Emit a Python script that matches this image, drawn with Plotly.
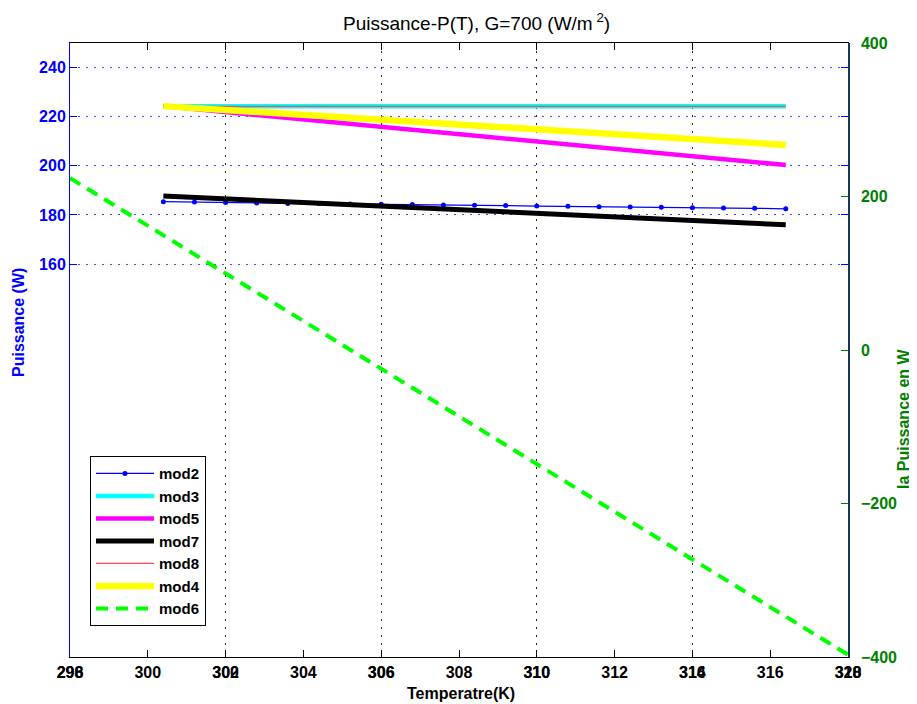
import plotly.graph_objects as go

# ---- data ----
T_mod2 = [300.4, 301.2, 302.0, 302.8, 303.6, 304.4, 305.2, 306.0, 306.8, 307.6, 308.4,
          309.2, 310.0, 310.8, 311.6, 312.4, 313.2, 314.0, 314.8, 315.6, 316.4]
P_mod2 = [185.4, 185.3, 185.1, 184.9, 184.7, 184.6, 184.4, 184.3, 184.2, 184.0, 183.9,
          183.8, 183.6, 183.5, 183.3, 183.2, 183.1, 182.9, 182.8, 182.7, 182.5]
T_thick = [300.4, 304.4, 308.4, 312.4, 316.4]
P_mod3 = [224.2, 224.2, 224.2, 224.2, 224.2]
P_mod5 = [224.3, 218.3, 212.3, 206.3, 200.3]
P_mod7 = [187.7, 184.9, 182.0, 179.0, 176.0]
P_mod8 = [224.2, 224.2, 224.2, 224.2, 224.2]
P_mod4 = [224.3, 220.4, 216.4, 212.4, 208.5]
T_mod6 = [298, 318]
P_mod6 = [224, -397]

x_tickvals = [298, 300, 302, 304, 306, 308, 310, 312, 314, 316, 318]
x_ticktext = ["298", "300", "302", "304", "306", "308", "310", "312", "314", "316", "318"]
x2_tickvals = [298, 302, 306, 310, 314, 318]
x2_ticktext = ["296", "300", "306", "310", "316", "320"]
y_tickvals = [160, 180, 200, 220, 240]
y2_tickvals = [-400, -200, 0, 200, 400]

FONT = "Liberation Sans, Arial, sans-serif"
GREEN = "#008000"

fig = go.Figure()
fig.add_trace(go.Scatter(x=T_mod2, y=P_mod2, name="mod2", mode="lines+markers",
                         line=dict(color="#0000ff", width=1.2),
                         marker=dict(color="#0000ff", size=5)))
fig.add_trace(go.Scatter(x=T_thick, y=P_mod3, name="mod3", mode="lines",
                         line=dict(color="#00ffff", width=4.5)))
fig.add_trace(go.Scatter(x=T_thick, y=P_mod5, name="mod5", mode="lines",
                         line=dict(color="#ff00ff", width=4.5)))
fig.add_trace(go.Scatter(x=T_thick, y=P_mod7, name="mod7", mode="lines",
                         line=dict(color="#000000", width=5)))
fig.add_trace(go.Scatter(x=T_thick, y=P_mod8, name="mod8", mode="lines",
                         line=dict(color="#ff4d4d", width=1.3)))
fig.add_trace(go.Scatter(x=T_thick, y=P_mod4, name="mod4", mode="lines",
                         line=dict(color="#ffff00", width=6.5)))
fig.add_trace(go.Scatter(x=T_mod6, y=P_mod6, name="mod6", mode="lines",
                         xaxis="x2", yaxis="y2",
                         line=dict(color="#00ff00", width=4, dash="12px,8px")))

tickfont = dict(family=FONT, size=16, color="black", weight="bold")

fig.update_layout(
    width=909, height=696,
    margin=dict(l=62, r=69, t=35, b=47),
    paper_bgcolor="white", plot_bgcolor="white",
    showlegend=True,
    xaxis=dict(range=[298, 318], tickvals=x_tickvals, ticktext=x_ticktext,
               showgrid=False, zeroline=False, showline=True, linecolor="black",
               linewidth=1, mirror="ticks", ticks="inside", ticklen=7,
               tickcolor="black", tickfont=tickfont, ticklabelstandoff=1,
               automargin=False),
    xaxis2=dict(range=[298, 318], tickvals=x2_tickvals, ticktext=x2_ticktext,
                overlaying="x", anchor="y", side="bottom",
                showgrid=True, gridcolor="#222222", griddash="2px,6px", gridwidth=1,
                zeroline=False, showline=True, linecolor="black", linewidth=1,
                ticks="inside", ticklen=7,
                tickcolor="black", tickfont=tickfont, ticklabelstandoff=1,
                automargin=False),
    yaxis=dict(range=[0, 250], tickvals=y_tickvals,
               showgrid=True, gridcolor="rgba(40,40,255,0.85)", griddash="2px,6px",
               zeroline=False, showline=True, linecolor="#0000ff", linewidth=1,
               mirror="ticks", ticks="inside", ticklen=7, tickcolor="#0000ff",
               tickfont=dict(family=FONT, size=16, color="#0000ff", weight="bold"),
               ticklabelstandoff=0, automargin=False),
    yaxis2=dict(range=[-400, 400], tickvals=y2_tickvals, overlaying="y",
                side="right", anchor="x2",
                showgrid=False, zeroline=False, showline=True, linecolor="#17375e",
                linewidth=1.5, ticks="inside", ticklen=7, tickcolor=GREEN,
                tickfont=dict(family=FONT, size=16, color=GREEN, weight="bold"),
                ticklabelstandoff=8, automargin=False),
    legend=dict(x=0.0257, y=0.327, xanchor="left", yanchor="top",
                bgcolor="white", bordercolor="black", borderwidth=1,
                font=dict(family=FONT, size=15, color="black", weight="bold"),
                itemwidth=58, tracegroupgap=0),
)

fig.add_annotation(text="Puissance-P(T), G=700 (W/m<sup> 2</sup>)", xref="paper", yref="paper",
                   x=0.523, y=1 + 21 / 614, xanchor="center", yanchor="middle",
                   showarrow=False, font=dict(family=FONT, size=19, color="black"))
fig.add_annotation(text="Temperatre(K)", xref="paper", yref="paper",
                   x=(461 - 70) / 778, y=(657 - 693) / 614, xanchor="center", yanchor="middle",
                   showarrow=False, font=dict(family=FONT, size=16, color="black", weight="bold"))
fig.add_annotation(text="Puissance (W)", xref="paper", yref="paper", textangle=-90,
                   x=(18 - 70) / 778, y=(657 - 323) / 614, xanchor="center", yanchor="middle",
                   showarrow=False, font=dict(family=FONT, size=16, color="#0000ff", weight="bold"))
fig.add_annotation(text="la Puissance en W", xref="paper", yref="paper", textangle=-90,
                   x=(903 - 70) / 778, y=(657 - 419) / 614, xanchor="center", yanchor="middle",
                   showarrow=False, font=dict(family=FONT, size=16, color=GREEN, weight="bold"))

fig.write_html("out.html")
